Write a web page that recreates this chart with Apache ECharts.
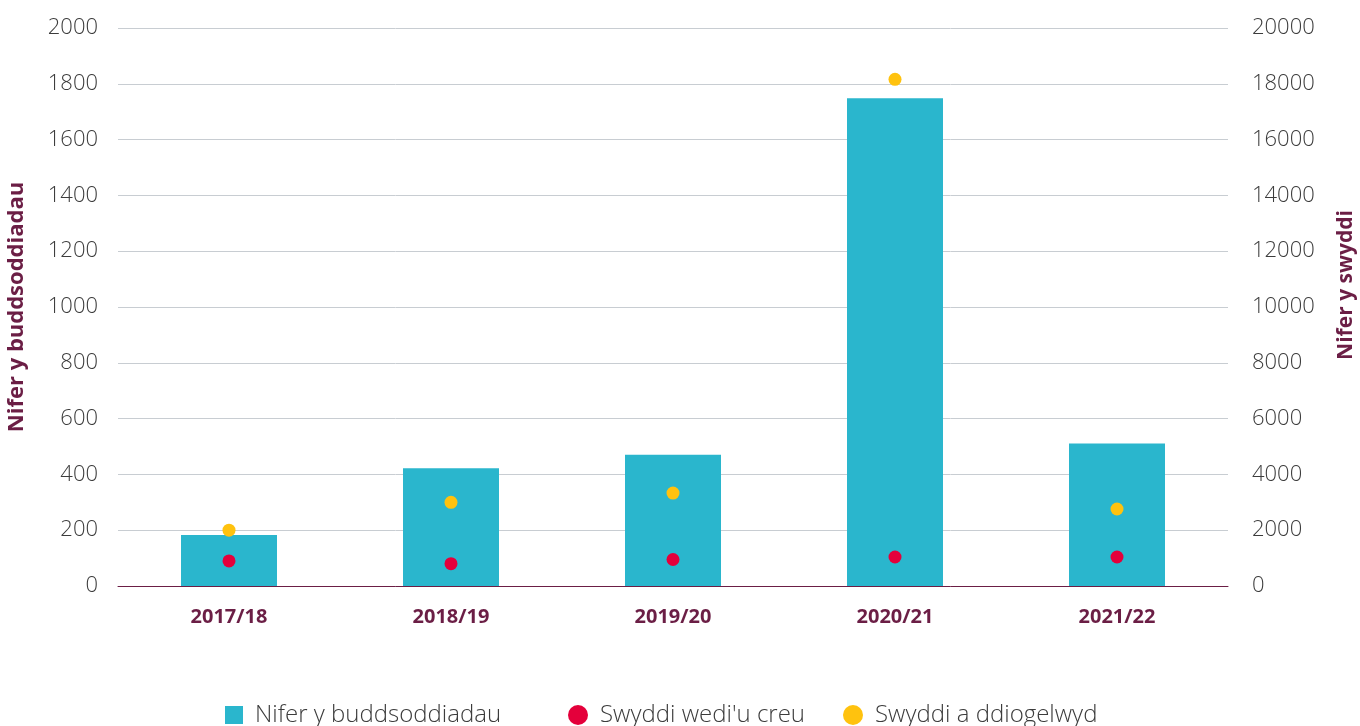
<!DOCTYPE html>
<html>
<head>
<meta charset="utf-8">
<script src="https://cdn.jsdelivr.net/npm/echarts@6/dist/echarts.min.js"></script>
<style>
  html, body { margin: 0; padding: 0; background: #fff; }
  #chart { width: 1360px; height: 726px; }
</style>
</head>
<body>
<div id="chart"></div>
<script>
// blynyddoedd ariannol
const years = ["2017/18", "2018/19", "2019/20", "2020/21", "2021/22"];
const investments = [183, 422, 470, 1748, 511];
const jobsCreated = [900, 800, 950, 1040, 1040];
const jobsSafeguarded = [2000, 3000, 3330, 18160, 2760];

const maroon = "#6B1E45";
const tickFont = { fontFamily: "Open Sans", fontWeight: 300, fontSize: 22, color: "#3c3c3c" };
const legendText = { fontFamily: "Open Sans", fontWeight: 300, fontSize: 24, color: "#3c3c3c", padding: [0, 0, 0, 7] };

function legendAt(left, name, icon, size) {
  return {
    left: left,
    top: 698,
    itemWidth: size,
    itemHeight: size,
    textStyle: legendText,
    data: [{ name: name, icon: icon }],
  };
}

const chart = echarts.init(document.getElementById("chart"));
chart.setOption({
  animation: false,
  grid: { left: 118, right: 132, top: 28, bottom: 140, outerBoundsMode: "none" },
  legend: [
    legendAt(220, "Nifer y buddsoddiadau", "rect", 18),
    legendAt(563, "Swyddi wedi'u creu", "circle", 20),
    legendAt(838, "Swyddi a ddiogelwyd", "circle", 20),
  ],
  xAxis: {
    type: "category",
    data: years,
    axisLine: { lineStyle: { color: maroon, width: 1 } },
    axisTick: { show: false },
    axisLabel: {
      margin: 21,
      fontFamily: "Open Sans",
      fontWeight: "bold",
      fontSize: 20,
      color: maroon,
    },
  },
  yAxis: [
    {
      type: "value",
      min: 0,
      max: 2000,
      interval: 200,
      name: "Nifer y buddsoddiadau",
      nameLocation: "middle",
      nameGap: 90,
      nameTextStyle: { fontFamily: "Open Sans", fontWeight: "bold", fontSize: 22, color: maroon },
      axisLine: { show: false },
      axisTick: { show: false },
      axisLabel: Object.assign({ margin: 20, formatter: (v) => String(v) }, tickFont),
      splitLine: { lineStyle: { color: "#c8cdd2", width: 1 } },
    },
    {
      type: "value",
      min: 0,
      max: 20000,
      interval: 2000,
      name: "Nifer y swyddi",
      nameLocation: "middle",
      nameGap: 108,
      nameTextStyle: { fontFamily: "Open Sans", fontWeight: "bold", fontSize: 21, color: maroon, padding: [0, 0, 0, 44] },
      axisLine: { show: false },
      axisTick: { show: false },
      axisLabel: Object.assign({ margin: 24, align: "left", formatter: (v) => String(v) }, tickFont),
      splitLine: { show: false },
    },
  ],
  series: [
    {
      name: "Nifer y buddsoddiadau",
      type: "bar",
      yAxisIndex: 0,
      barWidth: 96,
      data: investments,
      itemStyle: { color: "#2AB6CD" },
    },
    {
      name: "Swyddi wedi'u creu",
      type: "scatter",
      yAxisIndex: 1,
      symbolSize: 13,
      data: jobsCreated,
      itemStyle: { color: "#E4003B", opacity: 1 },
    },
    {
      name: "Swyddi a ddiogelwyd",
      type: "scatter",
      yAxisIndex: 1,
      symbolSize: 13,
      data: jobsSafeguarded,
      itemStyle: { color: "#FFC20E", opacity: 1 },
    },
  ],
});
</script>
</body>
</html>
